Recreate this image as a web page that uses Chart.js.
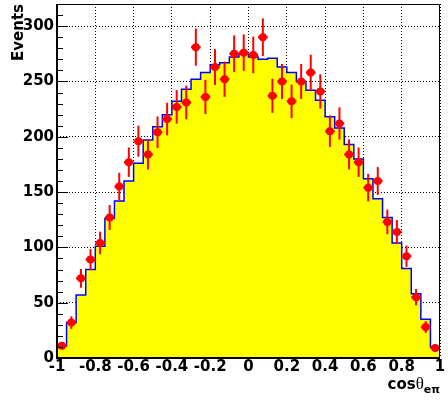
<!DOCTYPE html>
<html><head><meta charset="utf-8">
<script src="https://cdn.jsdelivr.net/npm/chart.js@4/dist/chart.umd.min.js"></script>
<style>html,body{margin:0;padding:0;background:#fff;overflow:hidden}#wrap{width:448px;height:401px}</style>
</head><body><div id="wrap"><canvas id="c" width="448" height="401"></canvas></div>
<script>
const binCenters = [-0.975,-0.925,-0.875,-0.825,-0.775,-0.725,-0.675,-0.625,-0.575,-0.525,
  -0.475,-0.425,-0.375,-0.325,-0.275,-0.225,-0.175,-0.125,-0.075,-0.025,
  0.025,0.075,0.125,0.175,0.225,0.275,0.325,0.375,0.425,0.475,
  0.525,0.575,0.625,0.675,0.725,0.775,0.825,0.875,0.925,0.975];
const binHalfWidth = 0.025;
const mcCounts = [11,32,57,80,101,126,142,160,176,197,
  209,220,232,243,252,258,265,267,272,275,
  272,270,271,263,258,250,242,233,218,208,
  193,180,162,144,127,104,81,58,35,10];
const dataCounts = [11,32,72,89,104,127,155,177,196,184,
  204,216,227,231,281,236,263,252,275,276,
  274,290,237,250,232,250,258,241,205,212,
  184,177,154,160,123,114,92,55,28,9];
const dataErrors = [3.3,5.7,8.5,9.4,10.2,11.3,12.4,13.3,14.0,13.6,
  14.3,14.7,15.1,15.2,16.8,15.4,16.2,15.9,16.6,16.6,
  16.6,17.0,15.4,15.8,15.2,15.8,16.1,15.5,14.3,14.6,
  13.6,13.3,12.4,12.6,11.1,10.7,9.6,7.4,5.3,3.0];
const xTickValues = [-1,-0.8,-0.6,-0.4,-0.2,0,0.2,0.4,0.6,0.8,1];
const xTickLabels = ['-1','-0.8','-0.6','-0.4','-0.2','0','0.2','0.4','0.6','0.8','1'];
const yTickValues = [0,50,100,150,200,250,300];
const yTickLabels = ['0','50','100','150','200','250','300'];
const yAxisTitle = 'Events';
const xAxisTitleMain = 'cos';
const xAxisTitleGreek = 'θ';
const xAxisTitleSub = 'eπ';

// histogram outline built from bins
const histPoints = [{x: binCenters[0]-binHalfWidth, y: 0}];
binCenters.forEach((c,i)=>histPoints.push({x: c-binHalfWidth, y: mcCounts[i]}));
histPoints.push({x: binCenters[binCenters.length-1]+binHalfWidth, y: mcCounts[mcCounts.length-1]});
histPoints.push({x: binCenters[binCenters.length-1]+binHalfWidth, y: 0});
const dataPoints = binCenters.map((c,i)=>({x:c, y:dataCounts[i]}));

const tickFont = {family:'DejaVu Sans', weight:'bold', size:15};

const decor = {
  id:'decor',
  afterDatasetsDraw(chart){
    const ctx=chart.ctx, xs=chart.scales.x, ys=chart.scales.y;
    ctx.save();
    ctx.strokeStyle='#ff0000';
    dataCounts.forEach((v,i)=>{
      const px=xs.getPixelForValue(binCenters[i]);
      const py=ys.getPixelForValue(v);
      ctx.lineWidth=2;
      ctx.beginPath();
      ctx.moveTo(px, ys.getPixelForValue(v-dataErrors[i]));
      ctx.lineTo(px, ys.getPixelForValue(v+dataErrors[i]));
      ctx.stroke();
      ctx.lineWidth=2.5;
      ctx.beginPath();
      ctx.moveTo(xs.getPixelForValue(binCenters[i]-binHalfWidth), py);
      ctx.lineTo(xs.getPixelForValue(binCenters[i]+binHalfWidth), py);
      ctx.stroke();
    });
    ctx.restore();
  },
  afterDraw(chart){
    const ctx=chart.ctx, a=chart.chartArea, ys=chart.scales.y;
    ctx.save();
    ctx.strokeStyle='#000';
    ctx.lineWidth=1;
    for(let v=0; v<=320; v+=10){
      const py=Math.round(ys.getPixelForValue(v))+0.5;
      const len = (v%50===0)?11:6;
      ctx.beginPath(); ctx.moveTo(a.left, py); ctx.lineTo(a.left+len, py); ctx.stroke();
    }
    ctx.beginPath();
    ctx.moveTo(a.left+0.5, a.top+0.5); ctx.lineTo(a.right-0.5, a.top+0.5); ctx.lineTo(a.right-0.5, a.bottom);
    ctx.stroke();
    ctx.lineWidth=2;
    ctx.beginPath();
    ctx.moveTo(a.left, a.top); ctx.lineTo(a.left, a.bottom); ctx.lineTo(a.right, a.bottom);
    ctx.stroke();
    ctx.fillStyle='#000';
    ctx.textBaseline='alphabetic';
    const fMain='bold 15px "DejaVu Sans"', fGreek='17px "Liberation Serif"', fSub='bold 11px "DejaVu Sans"';
    ctx.font=fMain; const w1=ctx.measureText(xAxisTitleMain).width;
    ctx.font=fGreek; const w2=ctx.measureText(xAxisTitleGreek).width;
    ctx.font=fSub; const w3=ctx.measureText(xAxisTitleSub).width;
    let x = a.right - (w1+w2+w3);
    const base = 389;
    ctx.font=fMain; ctx.fillText(xAxisTitleMain, x, base); x+=w1;
    ctx.font=fGreek; ctx.fillText(xAxisTitleGreek, x, base); x+=w2;
    ctx.font=fSub; ctx.fillText(xAxisTitleSub, x, base+4);
    ctx.restore();
  }
};

new Chart(document.getElementById('c'), {
  data: {
    datasets: [
      {type:'scatter', data:dataPoints, order:0, backgroundColor:'#ff0000', borderWidth:0,
       pointStyle:'circle', pointRadius:4, pointHoverRadius:4},
      {type:'line', data:histPoints, order:1, stepped:'before', fill:'origin',
       backgroundColor:'#ffff00', borderColor:'#0000ff', borderWidth:1.5,
       pointRadius:0, pointHoverRadius:0, tension:0}
    ]
  },
  options: {
    responsive:false, animation:false, devicePixelRatio:1,
    layout:{padding:{left:0,right:8,top:4,bottom:0}},
    plugins:{legend:{display:false}, tooltip:{enabled:false}},
    scales:{
      x:{type:'linear', min:-1, max:1,
        afterBuildTicks:s=>{s.ticks=xTickValues.map(v=>({value:v}));},
        afterFit:s=>{s.height=43; s.paddingLeft=0; s.paddingRight=0;},
        ticks:{callback:(v,i)=>xTickLabels[i], font:tickFont, color:'#000', padding:0, maxRotation:0, autoSkip:false},
        grid:{color:'#000', lineWidth:1, drawTicks:false},
        border:{display:false, dash:[1,2]}
      },
      y:{type:'linear', min:0, max:320,
        afterBuildTicks:s=>{s.ticks=yTickValues.map(v=>({value:v}));},
        afterFit:s=>{s.width=57; s.paddingTop=0; s.paddingBottom=0;},
        ticks:{callback:(v,i)=>yTickLabels[i], font:tickFont, color:'#000', padding:3, autoSkip:false},
        grid:{color:'#000', lineWidth:1, drawTicks:false},
        border:{display:false, dash:[1,2]},
        title:{display:true, text:yAxisTitle, align:'end', color:'#000', font:tickFont, padding:{top:10,bottom:0}}
      }
    }
  },
  plugins:[decor]
});
</script></body></html>
